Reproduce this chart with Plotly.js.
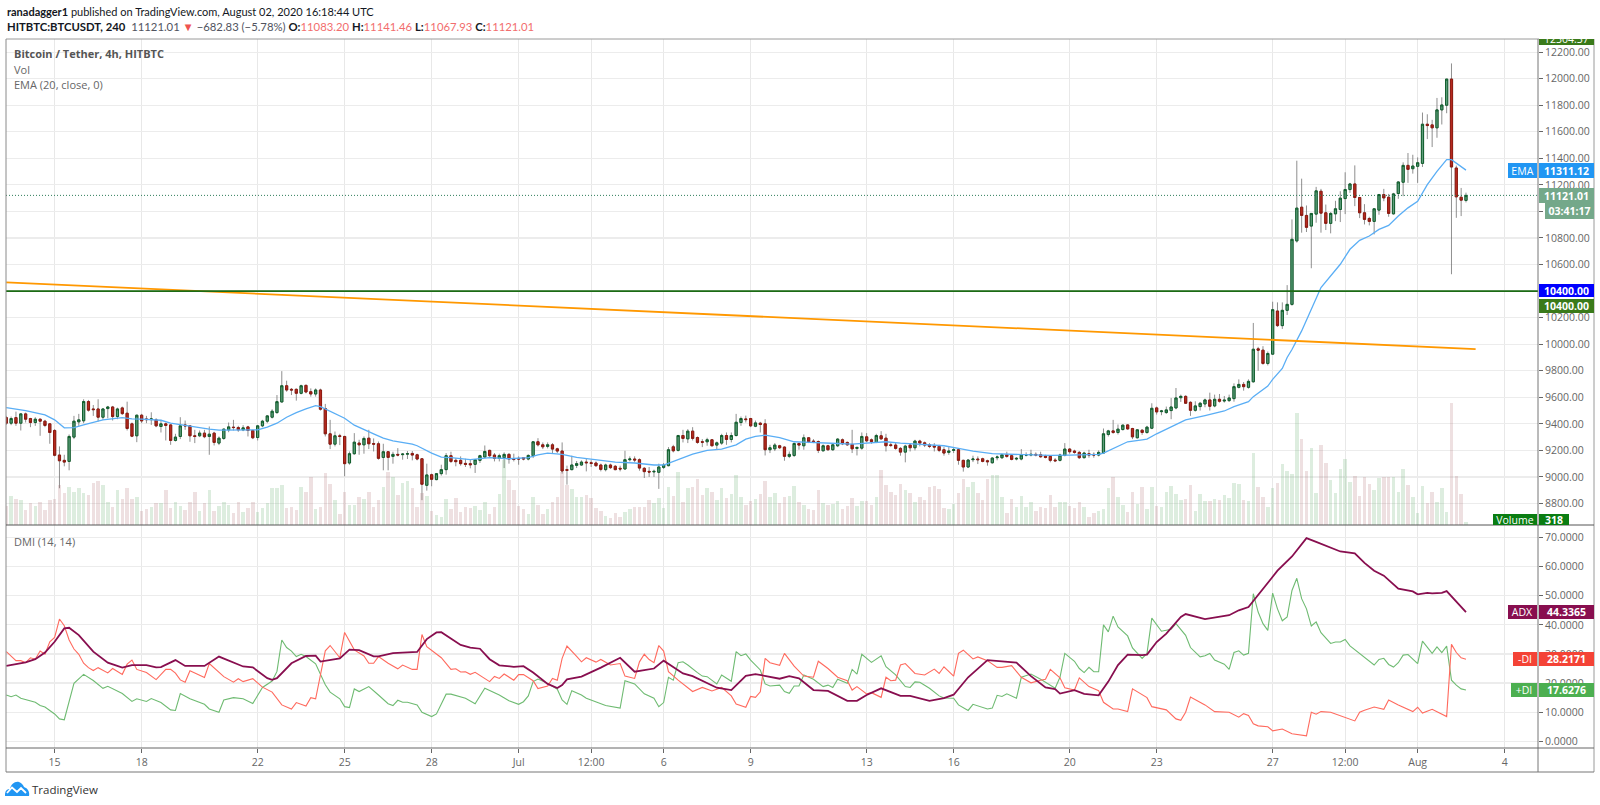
<!DOCTYPE html>
<html><head><meta charset="utf-8">
<script src="https://cdn.plot.ly/plotly-3.0.1.min.js"></script>
<style>html,body{margin:0;padding:0;background:#fff;width:1600px;height:805px;overflow:hidden}
#c{position:absolute;left:0;top:0;width:1600px;height:805px}
#cap{position:absolute;left:1539px;top:28px;width:60px;height:11px;background:#fff}
#logo{position:absolute;left:5px;top:781px}</style></head>
<body><div id="c"></div><div id="cap"></div>
<svg id="logo" width="25" height="15" viewBox="0 0 25 15"><path d="M0 15C-.5 10 2 8 5 8C6 3 10 0 14 1C17 2 18 4 19 6C22 7 25 10 24 15Z" fill="#2196f3"/><path d="M2 12L7 6.5L12 11L16 7L21 12" fill="none" stroke="#fff" stroke-width="1.8"/></svg>
<script>
const open=[9447,9405,9447,9405,9475,9440,9410,9435,9420,9400,
9350,9165,9125,9117,9300,9415,9423,9568,9512,9512,
9450,9515,9527,9455,9520,9480,9400,9310,9465,9437,
9432,9430,9380,9400,9392,9275,9305,9392,9385,9310,
9310,9330,9305,9330,9255,9290,9355,9375,9372,9355,
9377,9350,9297,9385,9420,9450,9485,9565,9687,9660,
9660,9630,9690,9642,9625,9655,9515,9325,9247,9310,
9305,9105,9175,9255,9242,9292,9252,9250,9147,9190,
9155,9170,9168,9172,9177,9167,9137,8937,9017,8980,
9025,9055,9160,9125,9125,9102,9100,9095,9125,9150,
9200,9165,9140,9145,9170,9137,9140,9145,9135,9160,
9265,9242,9230,9242,9212,9195,9055,9055,9087,9090,
9112,9107,9105,9090,9055,9090,9080,9065,9060,9130,
9135,9130,9065,9042,9038,9035,9072,9085,9227,9200,
9312,9287,9345,9297,9265,9265,9280,9240,9255,9312,
9282,9312,9410,9437,9440,9382,9405,9400,9205,9212,
9235,9225,9155,9162,9252,9235,9295,9270,9267,9197,
9235,9205,9235,9280,9260,9245,9215,9217,9302,9280,
9260,9310,9292,9242,9240,9215,9187,9240,9220,9270,
9257,9242,9235,9230,9205,9185,9200,9205,9125,9075,
9130,9135,9137,9122,9107,9145,9145,9167,9160,9135,
9135,9165,9165,9170,9167,9157,9155,9127,9125,9162,
9210,9195,9185,9145,9175,9170,9165,9180,9320,9347,
9335,9357,9392,9365,9295,9352,9335,9367,9520,9492,
9485,9500,9520,9597,9607,9562,9502,9530,9550,9580,
9535,9585,9572,9575,9590,9675,9697,9675,9717,9965,
9955,9855,9925,10250,10140,10255,10300,10778,11032,10970,
10890,10980,11152,10990,10910,10982,11015,11097,11165,11207,
11105,10990,10947,10925,11010,11127,11107,10982,11135,11220,
11347,11322,11340,11362,11657,11652,11630,11765,11800,11997,
11327,11107,11083.20];
const close=[9405,9440,9405,9475,9435,9410,9435,9420,9388,9335,
9163,9122,9112,9305,9420,9430,9568,9503,9507,9450,
9512,9527,9455,9512,9477,9365,9307,9465,9422,9432,
9437,9385,9400,9388,9275,9300,9385,9385,9310,9305,
9330,9303,9322,9260,9292,9360,9377,9372,9355,9370,
9350,9295,9385,9420,9460,9495,9567,9687,9655,9655,
9630,9687,9640,9625,9655,9510,9325,9247,9310,9305,
9100,9175,9262,9242,9290,9250,9247,9140,9190,9147,
9170,9165,9172,9175,9165,9135,8945,9015,8982,9025,
9055,9160,9117,9115,9100,9095,9092,9130,9160,9192,
9160,9140,9160,9170,9135,9132,9135,9135,9162,9265,
9242,9227,9242,9210,9195,9045,9050,9090,9100,9112,
9107,9102,9085,9057,9090,9070,9055,9060,9130,9135,
9128,9067,9040,9037,9042,9075,9090,9205,9197,9312,
9290,9345,9290,9260,9262,9280,9235,9257,9312,9282,
9312,9412,9440,9432,9385,9407,9395,9205,9220,9240,
9220,9155,9170,9252,9240,9295,9265,9265,9200,9235,
9205,9242,9285,9250,9242,9212,9222,9305,9272,9267,
9312,9287,9235,9237,9215,9187,9232,9220,9270,9255,
9240,9230,9225,9200,9180,9195,9205,9125,9075,9127,
9135,9130,9117,9115,9142,9150,9167,9155,9132,9140,
9165,9165,9170,9165,9152,9147,9125,9122,9165,9210,
9190,9185,9145,9180,9165,9165,9185,9325,9347,9335,
9360,9390,9362,9302,9355,9335,9375,9517,9490,9497,
9505,9527,9595,9607,9555,9502,9535,9555,9580,9532,
9585,9570,9578,9595,9680,9697,9680,9720,9962,9955,
9855,9930,10260,10140,10255,10300,10790,11025,10970,10880,
10985,11155,10987,10910,10985,11020,11100,11165,11207,11105,
10990,10940,10925,11020,11127,11102,10985,11132,11222,11347,
11317,11342,11367,11657,11647,11630,11765,11802,11997,11335,
11110,11085,11121.01];
const high=[9460,9455,9492,9480,9485,9445,9450,9440,9430,9405,
9360,9230,9167,9320,9460,9475,9585,9580,9542,9585,
9518,9535,9535,9522,9530,9567,9410,9470,9475,9460,
9487,9442,9430,9410,9397,9325,9450,9425,9390,9355,
9350,9355,9380,9340,9305,9365,9410,9430,9385,9390,
9385,9355,9390,9430,9465,9510,9617,9797,9725,9670,
9667,9695,9695,9667,9667,9665,9550,9430,9342,9325,
9310,9192,9330,9280,9305,9355,9290,9267,9250,9195,
9190,9217,9180,9195,9195,9175,9142,9100,9025,9030,
9092,9180,9190,9142,9155,9137,9130,9135,9167,9237,
9205,9180,9175,9185,9180,9175,9155,9150,9170,9270,
9292,9260,9260,9255,9220,9260,9085,9160,9120,9125,
9142,9125,9117,9100,9100,9100,9090,9085,9197,9155,
9155,9140,9075,9075,9055,9100,9105,9225,9242,9317,
9355,9360,9375,9305,9285,9295,9285,9267,9325,9335,
9335,9475,9455,9462,9445,9425,9415,9435,9242,9255,
9242,9230,9192,9260,9260,9320,9300,9285,9275,9245,
9242,9255,9292,9290,9267,9355,9230,9335,9330,9290,
9325,9345,9325,9260,9260,9225,9242,9255,9280,9280,
9267,9255,9255,9242,9225,9225,9225,9210,9130,9135,
9160,9155,9145,9130,9150,9162,9175,9190,9167,9150,
9210,9185,9205,9185,9190,9167,9160,9142,9175,9255,
9217,9205,9195,9190,9205,9185,9200,9365,9355,9430,
9395,9395,9397,9370,9360,9360,9385,9555,9530,9505,
9530,9595,9670,9620,9615,9570,9570,9565,9590,9635,
9620,9625,9610,9620,9705,9735,9715,9735,10160,9980,
9985,9945,10320,10315,10315,10445,10940,11382,11247,11045,
10985,11185,11170,11052,10995,11080,11152,11295,11215,11347,
11110,11055,10960,11025,11132,11170,11132,11140,11227,11370,
11440,11427,11407,11745,11732,11690,11855,11860,11997,12115,
11345,11177,11141.46];
const low=[9392,9390,9385,9350,9410,9375,9385,9310,9375,9250,
9155,8915,9080,9050,9285,9385,9405,9492,9460,9418,
9430,9442,9425,9435,9467,9350,9300,9262,9405,9405,
9392,9375,9335,9275,9242,9267,9285,9355,9265,9255,
9300,9292,9167,9237,9240,9280,9337,9350,9340,9345,
9305,9285,9275,9375,9405,9440,9475,9560,9642,9617,
9575,9622,9630,9605,9605,9500,9305,9210,9230,9240,
9005,9092,9167,9167,9175,9210,9192,9130,9050,9050,
9100,9155,9130,9135,9125,9125,8825,8897,8930,8975,
9010,9017,9105,9080,9085,9075,9065,9030,9105,9142,
9150,9117,9117,9067,9100,9117,9092,9125,9125,9142,
9230,9210,9215,9175,9180,9025,8942,9050,9067,9085,
9042,9075,9075,9042,9042,9060,9050,9042,9055,9117,
9110,9047,8992,9000,9000,8910,9060,9080,9185,9192,
9260,9255,9275,9250,9225,9235,9230,9210,9242,9242,
9260,9305,9385,9410,9375,9375,9335,9162,9180,9195,
9210,9122,9142,9150,9205,9205,9255,9255,9180,9192,
9197,9197,9225,9240,9235,9180,9162,9205,9262,9250,
9255,9280,9192,9225,9205,9160,9110,9192,9200,9230,
9225,9217,9192,9187,9160,9167,9180,9092,9040,9067,
9112,9097,9110,9085,9100,9125,9135,9145,9125,9125,
9125,9155,9155,9155,9145,9140,9110,9112,9117,9155,
9175,9175,9135,9140,9145,9145,9155,9175,9305,9325,
9320,9350,9355,9285,9290,9317,9325,9360,9470,9465,
9475,9435,9510,9565,9550,9460,9492,9500,9525,9500,
9525,9560,9560,9565,9567,9667,9650,9665,9710,9800,
9845,9840,9920,10130,10115,10220,10290,10765,10840,10845,
10572,10915,10840,10860,10835,10927,10920,10980,11140,11040,
10950,10902,10895,10827,10975,11077,10960,10977,11095,11115,
11215,11285,11215,11335,11545,11485,11555,11655,11740,10527,
10952,10965,11067.93];
const volume=[1900,2900,2600,2500,1500,2200,1900,2300,1500,2500,
2600,4000,3200,3800,3300,3700,3200,3000,4200,4400,
4000,2300,1800,3500,2600,3700,2600,2800,1400,1600,
1800,2200,2200,3500,1700,2300,1900,1500,2300,3300,
1400,2200,3500,1400,1900,2300,2000,1200,2300,1300,
1700,2300,1300,1700,2200,3700,3700,4000,1700,1800,
1500,3800,3300,4800,1600,1800,5200,4100,2500,1100,
3300,2000,2000,2800,2600,3300,1800,2500,3800,5300,
4800,3000,4200,4400,3700,1800,3200,2900,1400,1000,
800,2600,1600,2700,1300,1800,1700,1900,1500,2300,
1100,1800,3100,6500,4500,3500,1900,1600,1100,2800,
2000,1100,1600,2300,2800,5300,4000,3600,2800,2800,
3000,2700,1700,1400,900,700,1200,800,1300,1600,
1800,1800,1800,2500,2200,2700,1700,3800,2900,5300,
2300,3700,3800,4600,3000,3700,3300,2500,3700,2700,
3100,5000,2800,2000,2400,2600,3100,4400,2800,3200,
2200,2800,2900,3900,2300,2000,1600,1500,3500,2200,
2000,2100,2400,1600,1900,2700,1900,2400,2400,2000,
2800,5500,4000,3300,3000,4100,3500,3200,2300,2800,
2500,3800,3900,3600,1700,1600,2100,3200,4600,3800,
4300,3200,2500,4600,5000,5000,2800,1200,2600,1800,
2900,1800,2300,1400,1800,1700,3000,1800,2300,2300,
1900,1700,2300,1800,800,1200,1400,1600,3700,4800,
2800,2000,1300,3300,2100,3800,1600,3800,1900,1800,
3300,3900,3100,2500,2600,4000,1400,3100,2400,2400,
2600,2500,3000,2700,4200,4100,2500,2400,7200,3800,
2800,1800,3700,4200,6100,5400,5100,11200,8600,5400,
7700,3200,8000,6200,4500,3200,5600,6600,4300,4900,
2900,4800,4100,3500,4700,4800,4800,4800,3300,5600,
4000,2800,1200,3900,2200,3300,2300,3700,1300,12200,
4900,3100,318];
const emaIdx=[0,4,8,10,12,14,16,18,20,24,26,28,30,32,34,38,42,44,48,52,54,56,58,60,62,64,65,66,68,70,72,74,76,78,80,84,85,88,90,92,96,100,104,108,110,112,114,115,118,122,126,130,134,136,138,140,142,145,148,151,153,155,157,160,163,165,168,172,175,178,182,185,190,194,197,200,204,208,212,216,220,222,226,227,230,232,235,236,238,242,244,248,252,254,257,258,260,261,262,264,265,266,268,270,272,276,278,280,282,284,286,288,290,292,294,296,298,299,300,301,302];
const emaVal=[9522,9500,9467,9430,9370,9372,9392,9412,9430,9447,9437,9435,9430,9427,9405,9380,9360,9352,9355,9355,9375,9405,9450,9485,9512,9537,9530,9512,9475,9442,9390,9355,9325,9292,9272,9247,9235,9180,9150,9145,9130,9145,9137,9145,9167,9180,9175,9170,9147,9130,9112,9105,9090,9090,9117,9142,9172,9200,9210,9242,9285,9305,9315,9297,9265,9262,9260,9252,9247,9255,9265,9255,9242,9235,9215,9195,9175,9170,9167,9162,9165,9165,9170,9180,9230,9265,9280,9285,9325,9392,9430,9462,9497,9530,9567,9605,9655,9685,9735,9817,9900,9960,10100,10270,10427,10602,10715,10782,10815,10865,10895,10965,11027,11077,11202,11302,11390,11390,11365,11340,11311.12];
const minusIdx=[0,2,3,4,5,6,7,8,9,10,11,12,13,14,15,16,17,18,19,21,22,24,25,26,27,29,31,33,34,35,36,37,38,41,42,44,45,47,48,49,51,53,55,57,59,60,62,63,64,65,66,67,69,70,72,74,75,76,77,79,81,82,84,85,86,87,90,92,93,94,95,96,97,100,101,102,103,105,106,107,109,110,112,113,114,115,116,118,119,120,122,123,125,127,128,130,131,132,133,134,135,136,137,139,142,144,146,148,150,151,153,154,155,156,157,158,160,161,163,165,167,168,170,172,174,175,176,178,179,181,182,183,184,185,186,188,190,192,193,194,196,197,198,200,201,203,205,206,208,210,212,214,215,216,217,218,219,221,222,224,226,227,229,230,232,233,236,237,240,242,243,244,245,248,250,253,255,256,257,258,259,261,262,264,266,269,270,271,272,274,279,280,281,283,285,286,288,291,292,293,295,298,299,300,301,302];
const minusVal=[30.8,27.7,27.7,27,28.7,28.2,31,29.9,34.2,35.7,42,39.7,34.8,31.7,29.9,26.8,25.3,24.3,25.3,23.5,25,23,26.5,27.9,24.7,23.6,21.2,24.7,24.7,23.4,21.1,20.3,24.2,21.9,26.7,23.9,22.2,20.3,21.5,20.5,21.5,18.6,16.9,12.5,11.1,13.3,12.1,15,14.6,22.8,31.1,32.9,28.7,37.4,31.4,29.3,26.8,26.8,29.1,26.8,24.9,26.2,24.7,24.7,36.7,32.5,28.7,24.7,24.9,23.8,23.9,23,23.7,20.5,22.3,21.6,23.1,21,22.9,22.9,20.8,18.1,19,21.6,21,28.5,32.7,29.2,27.3,28.7,27.2,28.1,26.2,26.7,22.4,21.6,27.3,29.9,28.1,27,32.9,31,23.9,21,17.1,18.5,17.3,18.5,15.6,12.8,11.7,15.4,15.1,17,28.5,27,26.1,30.2,25.8,22.4,22,27.5,25,22,20.8,17.6,18.8,16.3,16.7,15.1,22,20.8,21,26.2,26.7,23.3,22.8,24.8,23.3,25.6,22.4,30.2,31.3,28.3,29,27.7,25.4,25.4,26,22,20.1,21,21.3,24.7,23.3,21.8,18.4,17.6,21.8,18.8,17.4,13.4,11.1,11.1,10.2,18,15,11.9,10.8,7.7,7.2,10,15.2,12.5,10.2,10,8.3,9.5,8.9,6,5.3,5,3.6,4.2,2.6,1.9,10,9.3,10.2,10,7,10,10.7,11.8,11,14.2,12.5,10.2,11.7,9.7,11,8.5,33.3,30.5,28.7,28.2171];
const plusIdx=[0,1,2,3,6,7,8,10,11,12,14,16,18,20,21,24,26,27,29,30,32,34,35,36,38,41,42,44,45,47,49,51,53,55,56,57,58,59,60,61,62,64,66,67,69,70,71,72,73,75,77,79,80,81,82,83,85,86,88,89,91,92,95,97,99,102,104,106,107,108,109,110,112,114,115,116,117,119,120,122,124,127,128,130,132,134,135,136,137,138,139,140,141,143,144,145,147,148,150,151,152,153,154,156,157,158,160,161,162,163,164,165,167,169,170,171,172,174,175,176,177,179,181,182,184,186,187,188,189,191,193,194,196,197,199,200,203,204,205,206,207,209,210,212,214,217,218,219,221,222,223,224,225,226,227,228,229,230,232,233,235,236,237,239,241,242,244,245,247,248,249,250,252,253,254,255,256,257,258,259,260,261,262,263,264,265,266,267,268,269,270,271,272,274,275,276,277,278,280,282,283,284,285,286,287,288,289,290,292,293,295,296,297,298,299,300,301,302];
const plusVal=[15.9,15.3,15.9,14.8,13.4,12.3,11.8,9.4,7.7,7.4,19.9,23,20.9,18.2,18.9,16.4,13.7,14.6,13.7,14.7,13.3,10.8,10.6,16.4,14.6,12.7,11.1,10,14.2,15,14.6,13,18.5,20.7,24,34.8,32.2,31,29.1,29.9,29.1,26.6,19.4,16.9,14.6,11.9,11.6,18,17.1,18.8,15.9,12.9,12.3,14.1,13.4,13.4,12.5,10,8.5,9.4,16.2,16.2,14.8,12.9,18.2,15.9,13.9,12.7,13.6,15.6,20.5,21.4,19.9,17.9,14.2,12.7,17.4,15.9,14.8,13.6,12.3,11.4,20.8,19.7,16.3,14.8,11.9,13.3,22,21,27,27.3,26.2,23.6,22.4,22.2,19.7,22.8,20.6,30.8,29.4,30,27.9,24.5,19.7,19,19.3,17.1,16.5,19,19,22.8,21.3,18.8,19.3,18.5,21.3,19.9,24.7,23.1,29.9,27.1,29.4,25.6,22.8,18.8,18.5,20.4,20.3,18.2,15.6,14.9,14.8,12.5,10.6,12.7,11.1,11.4,15.8,15.4,16.3,14.8,22,23.1,21.3,18.2,22,30.2,27.5,25,23.6,25.4,23.9,23.9,40,37.6,43,39.3,36.2,32.1,28.5,30.2,42.3,37.8,38.5,40.4,36.4,32.2,29,29.4,30.2,27.9,26.5,24.7,30.5,31.1,29.6,30.2,50.7,44.4,40.4,38.1,50.9,45.5,41.4,42.7,51.8,56,49,45.5,39.6,41,37.3,33.6,34.1,34.1,35,32.8,30.2,27.5,26.2,28.1,28.5,26.4,25.5,27,29.6,29.8,26.7,34.4,30.2,32.4,30.5,32.7,21,19.3,18,17.6276];
const adxIdx=[0,2,4,6,8,10,12,13,15,18,21,24,26,29,31,32,35,37,41,44,47,49,51,54,55,56,59,62,64,65,69,71,73,76,77,80,85,87,89,90,94,96,98,100,102,105,107,109,112,114,115,116,119,123,127,130,134,136,140,142,147,150,153,155,160,162,164,167,170,174,176,178,181,185,187,191,194,196,199,203,209,212,215,217,218,221,223,226,228,230,232,235,236,238,240,243,244,248,253,255,257,260,263,266,269,271,276,279,281,283,285,288,291,292,294,295,297,298,300,302];
const adxVal=[25.9,26.6,27.1,28.2,30.5,34.2,38.8,39,36.5,30.8,27,25.3,26.2,26.2,25.4,25.5,27.9,25.9,25.9,29.1,27,25.7,25.4,21.7,21.1,21.7,26.8,29.3,29.4,27.4,28.5,31.5,31.3,29.2,29.2,30.3,30.7,35.1,37.4,37.5,33.1,32.2,31.8,28.2,26.1,25.6,25.8,23.6,19.7,18.3,19.3,21.3,22.2,25.3,28.7,23.9,25,27.7,23.3,22.4,18.4,17.6,22.5,23.1,21.5,22.4,21.6,17.6,17.3,13.9,13.9,15.9,18.2,15.6,15.6,13.9,14.8,16,22,27.9,27,22.4,18.5,17.9,16.4,17.6,16.3,15.8,20.5,26.2,29.8,29.6,29.8,34.1,37,42.7,43.7,42,43.3,45,46.1,52.4,58.6,63.5,69.8,68.5,65.2,64.6,61.3,58.6,56.9,52.4,51.5,50.5,51,50.8,51,51.6,47.8,44.3365];
const trendX=[0,304];
const trendY=[10466,9963];
const supportLevel=[10400,10400];
const lastPrice=[11121.01,11121.01];
const tickDates=["2020-06-15","2020-06-18","2020-06-22","2020-06-25","2020-06-28","2020-07-01","2020-07-03 12:00","2020-07-06","2020-07-09","2020-07-13","2020-07-16","2020-07-20","2020-07-23","2020-07-27","2020-07-29 12:00","2020-08-01","2020-08-04"];
const tickText=["15","18","22","25","28","Jul","12:00","6","9","13","16","20","23","27","12:00","Aug","4"];
const priceTicks=[8800,9000,9200,9400,9600,9800,10000,10200,10400,10600,10800,11000,11200,11400,11600,11800,12000,12200];
const dmiTicks=[0,10,20,30,40,50,60,70];

const t0=Date.UTC(2020,5,13,8);
const dt=i=>new Date(t0+i*4*3600e3).toISOString().slice(0,19).replace('T',' ');
const xs=open.map((_,i)=>dt(i));
const W=1600,H=805;
const px=x=>x/W, py=y=>1-y/H;
const bodyHi=open.map((o,i)=>Math.max(o,close[i])), bodyLo=open.map((o,i)=>Math.min(o,close[i]));
const xl=dt(-0.06), xr=dt(316.9);
const FONT='"Open Sans",sans-serif';
const data=[
 {type:'candlestick',x:xs,open,close,high,low,xaxis:'x',yaxis:'y',whiskerwidth:0,
  increasing:{line:{color:'rgba(105,105,105,.75)',width:1},fillcolor:'rgba(0,0,0,0)'},
  decreasing:{line:{color:'rgba(105,105,105,.75)',width:1},fillcolor:'rgba(0,0,0,0)'},showlegend:false,hoverinfo:'skip'},
 {type:'candlestick',x:xs,open,close,high:bodyHi,low:bodyLo,xaxis:'x',yaxis:'y',whiskerwidth:0,
  increasing:{line:{color:'#0f5f2c',width:1},fillcolor:'#5f9d7c'},
  decreasing:{line:{color:'#8e1a10',width:1},fillcolor:'#b52a1f'},showlegend:false,hoverinfo:'skip'},
 {type:'bar',x:xs,y:volume,xaxis:'x',yaxis:'y3',width:4*3600e3*0.74,
  marker:{color:close.map((c,i)=>c>=open[i]?'rgba(100,175,110,.22)':'rgba(165,90,95,.19)'),line:{width:0}},showlegend:false,hoverinfo:'skip'},
 {type:'scatter',mode:'lines',x:emaIdx.map(dt),y:emaVal,xaxis:'x',yaxis:'y',line:{color:'#5aaef5',width:1.3},showlegend:false,hoverinfo:'skip'},
 {type:'scatter',mode:'lines',x:trendX.map(dt),y:trendY,xaxis:'x',yaxis:'y',line:{color:'#ff9800',width:1.8},showlegend:false,hoverinfo:'skip'},
 {type:'scatter',mode:'lines',x:[xl,xr],y:supportLevel,xaxis:'x',yaxis:'y',line:{color:'#1b6b14',width:1.6},showlegend:false,hoverinfo:'skip'},
 {type:'scatter',mode:'lines',x:[xl,xr],y:lastPrice,xaxis:'x',yaxis:'y',line:{color:'#2f7d5b',width:1,dash:'1px,2px'},showlegend:false,hoverinfo:'skip'},
 {type:'scatter',mode:'lines',x:plusIdx.map(dt),y:plusVal,xaxis:'x',yaxis:'y2',line:{color:'#6fbb72',width:1.1},showlegend:false,hoverinfo:'skip'},
 {type:'scatter',mode:'lines',x:minusIdx.map(dt),y:minusVal,xaxis:'x',yaxis:'y2',line:{color:'#ff6a5e',width:1.1},showlegend:false,hoverinfo:'skip'},
 {type:'scatter',mode:'lines',x:adxIdx.map(dt),y:adxVal,xaxis:'x',yaxis:'y2',line:{color:'#880e4f',width:1.8},showlegend:false,hoverinfo:'skip'}
];
function box(x0,y0,x1,y1,color,text,extra){
  return Object.assign({xref:'paper',yref:'paper',x:px(x0),y:py(y0),xanchor:'left',yanchor:'top',width:x1-x0,height:y1-y0,
    bgcolor:color,borderpad:0,borderwidth:0,showarrow:false,align:'center',valign:'middle',text:text,
    font:{family:FONT,size:10.5,color:'#fff'}},extra||{});
}
function label(x,y,text,size,color,fam){
  return {xref:'paper',yref:'paper',x:px(x),y:py(y),xanchor:'left',yanchor:'middle',showarrow:false,text:text,
    font:{family:fam||FONT,size:size,color:color},borderpad:0};
}
function ln(x0,y0,x1,y1,c){return {type:'line',xref:'paper',yref:'paper',x0:px(x0),y0:py(y0),x1:px(x1),y1:py(y1),line:{color:c,width:1},layer:'above'};}
const R='#f26d6d',D='#131722',LATO='Lato,sans-serif';
const head2='<b>HITBTC:BTCUSDT, 240</b>  <span style="color:#50535e">11121.01</span> <span style="color:#ef5350">▼</span> <span style="color:#50535e">−682.83 (−5.78%)</span> <b>O:</b><span style="color:'+R+'">11083.20</span> <b>H:</b><span style="color:'+R+'">11141.46</span> <b>L:</b><span style="color:'+R+'">11067.93</span> <b>C:</b><span style="color:'+R+'">11121.01</span>';
const layout={width:W,height:H,margin:{l:0,r:0,t:0,b:0,pad:0},paper_bgcolor:'#fff',plot_bgcolor:'#fff',showlegend:false,
 boxgap:0.35,bargap:0,dragmode:false,
 xaxis:{type:'date',domain:[px(6),px(1538)],range:[xl,xr],anchor:'y2',tickmode:'array',tickvals:tickDates,ticktext:tickText,
   showgrid:true,gridcolor:'#e8e8e8',gridwidth:1.2,ticks:'outside',ticklen:4,tickcolor:'#666',tickangle:0,
   tickfont:{family:FONT,size:10.5,color:'#666'},showline:false,zeroline:false,rangeslider:{visible:false}},
 yaxis:{domain:[py(525),py(39)],range:[8638,12299],side:'right',anchor:'x',tickmode:'array',tickvals:priceTicks,
   tickformat:'.2f',showgrid:true,gridcolor:'#ececec',gridwidth:1.2,ticks:'outside',ticklen:4,tickcolor:'#666',
   tickfont:{family:FONT,size:10.5,color:'#666'},showline:false,zeroline:false},
 yaxis2:{domain:[py(748),py(525)],range:[-2.3,74.3],side:'right',anchor:'x',tickmode:'array',tickvals:dmiTicks,
   tickformat:'.4f',showgrid:true,gridcolor:'#ececec',gridwidth:1.2,ticks:'outside',ticklen:4,tickcolor:'#666',
   tickfont:{family:FONT,size:10.5,color:'#666'},showline:false,zeroline:false},
 yaxis3:{domain:[py(525),py(39)],range:[0,48600],overlaying:'y',visible:false,anchor:'x',fixedrange:true},
 shapes:[ln(6,39,1594,39,'#9a9a9a'),ln(6,39,6,772,'#8a8a8a'),ln(1594,39,1594,772,'#9a9a9a'),ln(6,772,1594,772,'#777'),
   ln(1538,39,1538,772,'#777'),ln(6,525,1594,525,'#555'),ln(6,748,1594,748,'#666')],
 annotations:[
  label(6,11,'<b>ranadagger1</b> published on TradingView.com, August 02, 2020 16:18:44 UTC',11,D,LATO),
  label(6,27,head2,11.3,D,LATO),
  label(13,54,'<b>Bitcoin / Tether, 4h, HITBTC</b>',11,'#555'),
  label(13,69,'Vol',11,'#666'),
  label(13,85,'EMA (20, close, 0)',11,'#666'),
  label(13,541,'DMI (14, 14)',11,'#666'),
  label(31,789,'TradingView',11.5,'#333'),
  box(1539,39,1594,45,'#3a7a1a','',{}),
  {xref:'paper',yref:'paper',x:px(1566.5),y:py(39),xanchor:'center',yanchor:'middle',showarrow:false,text:'12304.37',font:{family:FONT,size:10.5,color:'#fff'}},
  box(1508,163,1537,178,'#2196f3','EMA'),
  box(1539,163,1594,178,'#2196f3','<b>11311.12</b>'),
  box(1539,188,1594,203,'#74a88a','<b>11121.01</b>'),
  box(1545,203,1594,219,'#74a88a','<b>03:41:17</b>'),
  box(1539,284,1594,297,'#0000ff','<b>10400.00</b>'),
  box(1539,299,1594,313,'#3a7a1a','<b>10400.00</b>'),
  box(1493,514,1537,525,'#0a7d12','Volume',{yshift:0}),
  box(1539,514,1569,525,'#0a7d12','<b>318</b>'),
  box(1508,605,1537,619,'#880e4f','ADX'),
  box(1539,605,1594,619,'#880e4f','<b>44.3365</b>'),
  box(1513,652,1537,666,'#f44336','-DI'),
  box(1539,652,1594,666,'#f44336','<b>28.2171</b>'),
  box(1511,683,1537,697,'#4caf50','+DI'),
  box(1539,683,1594,697,'#4caf50','<b>17.6276</b>')
 ]
};
Plotly.newPlot('c',data,layout,{staticPlot:true,displayModeBar:false});
</script></body></html>
